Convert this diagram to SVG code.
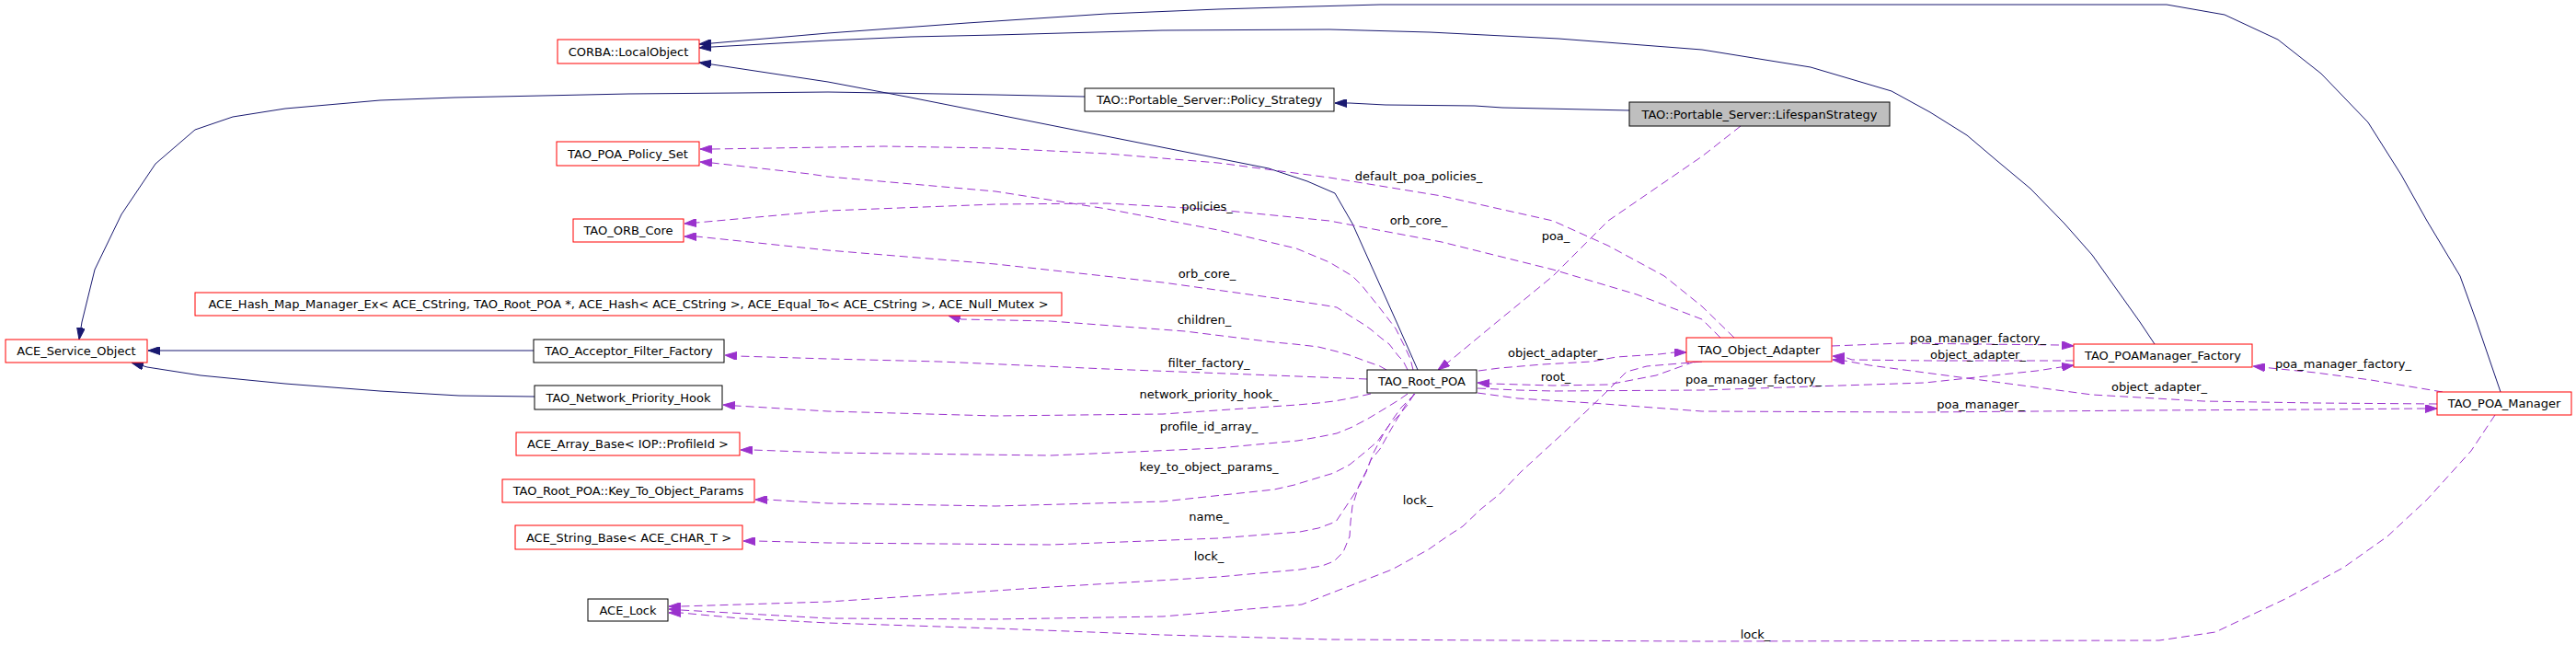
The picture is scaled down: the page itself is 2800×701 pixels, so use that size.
<svg xmlns="http://www.w3.org/2000/svg" width="2800" height="701" viewBox="0 0 2800 701">
<style>
text{font-family:"DejaVu Sans","Liberation Sans",sans-serif;font-size:13px;text-anchor:middle;fill:#000}
.node rect{fill:#fff;stroke:#ff0000;stroke-width:1}
.node.k rect{stroke:#000}
.node.g rect{fill:#bfbfbf;stroke:#000}
.inh{fill:none;stroke:#191970;stroke-width:1;marker-end:url(#ah)}
.use{fill:none;stroke:#9a32cd;stroke-width:1;stroke-dasharray:9,5;marker-end:url(#ap)}
</style>
<defs>
<marker id="ah" viewBox="0 0 13 9" refX="13" refY="4.5" markerWidth="13" markerHeight="9" markerUnits="userSpaceOnUse" orient="auto"><path d="M0,0L13,4.5L0,9z" fill="#191970" stroke="#191970"/></marker>
<marker id="ap" viewBox="0 0 13 9" refX="13" refY="4.5" markerWidth="13" markerHeight="9" markerUnits="userSpaceOnUse" orient="auto"><path d="M0,0L13,4.5L0,9z" fill="#9a32cd" stroke="#9a32cd"/></marker>
</defs>
<rect width="2800" height="701" fill="#fff"/>
<g id="connectors">
<path class="inh" d="M2718,426 L2692,350 L2674,300 L2638,240 L2610,190 L2574,133 L2523,80 L2476,43 L2418,16 L2355,5 L1500,5 L1427,7 L1324,10 L1203,15 L1051,25 L900,36 L774,47 L760,48"/>
<path class="inh" d="M2342,374 L2326,350 L2274,277 L2244,243 L2207,205 L2171,175 L2138,147 L2098,122 L2056,99 L1968,73 L1850,54 L1694,42 L1554,35 L1445,32 L1263,33 L1082,38 L990,40 L900,44 L774,51 L760,52"/>
<path class="inh" d="M1541,402 L1518,350 L1470,243 L1451,210 L1421,197 L1379,183 L990,106 L900,89 L774,70 L760,68"/>
<path class="inh" d="M1179,105 L1082,103 L900,100 L803,101 L683,102 L494,106 L413,109 L310,118 L253,127 L212,141 L169,178 L132,233 L103,293 L89,350 L86,369"/>
<path class="inh" d="M1771,120 L1633,117 L1603,115 L1506,114 L1467,112 L1451,112"/>
<path class="inh" d="M580,381 L161,381"/>
<path class="inh" d="M581,431 L499,430 L413,425 L310,417 L218,408 L160,399 L143,394"/>
<path class="use" d="M1885,367 L1850,333 L1809,300 L1748,267 L1688,240 L1567,213 L1506,203 L1445,193 L1324,177 L1203,167 L1082,161 L961,159 L900,160 L774,162 L761,162"/>
<path class="use" d="M1536,402 L1533,390 L1527,377 L1517,357 L1500,335 L1480,310 L1470,300 L1445,285 L1409,270 L1324,250 L1203,227 L1082,208 L900,192 L880,189 L774,177 L761,176"/>
<path class="use" d="M1870,367 L1850,347 L1779,320 L1688,293 L1567,263 L1445,240 L1324,228 L1203,221 L1082,222 L900,229 L757,242 L744,243"/>
<path class="use" d="M1530,402 L1525,392 L1520,387 L1510,374 L1502,368 L1490,358 L1483,353 L1467,343 L1453,334 L1435,331 L1408,327 L1264,307 L1082,287 L900,272 L757,257 L744,257"/>
<path class="use" d="M1507,402 L1500,398 L1483,392 L1467,386 L1453,382 L1433,377 L1407,374 L1385,372 L1288,360 L1142,349 L1045,347 L1031,343"/>
<path class="use" d="M1486,412 L1385,408 L1203,401 L1021,393 L900,390 L801,387 L788,386"/>
<path class="use" d="M1490,428 L1467,433 L1450,436 L1433,438 L1410,440 L1264,450 L1082,452 L900,447 L800,441 L786,440"/>
<path class="use" d="M1530,428 L1520,435 L1507,443 L1487,455 L1470,464 L1453,471 L1433,475 L1410,479 L1324,487 L1142,495 L900,492 L818,489 L805,489"/>
<path class="use" d="M1537,428 L1530,440 L1520,452 L1510,462 L1497,480 L1483,492 L1467,505 L1450,514 L1430,520 L1407,527 L1385,532 L1264,545 L1082,550 L900,547 L834,543 L821,543"/>
<path class="use" d="M1538,428 L1528,440 L1520,453 L1510,470 L1500,488 L1490,500 L1485,513 L1478,527 L1472,537 L1462,552 L1452,567 L1433,574 L1413,578 L1324,585 L1142,592 L900,590 L822,588 L808,588"/>
<path class="use" d="M1538,428 L1523,443 L1513,457 L1503,473 L1493,492 L1485,512 L1477,528 L1470,550 L1468,567 L1467,583 L1460,600 L1450,610 L1437,615 L1413,619 L1324,627 L1142,638 L900,654 L740,659 L727,659"/>
<path class="use" d="M1850,393 L1790,398 L1768,404 L1742,430 L1700,470 L1653,513 L1630,537 L1610,553 L1590,572 L1573,583 L1553,597 L1533,608 L1513,619 L1415,657 L1264,670 L1082,673 L900,672 L740,663 L727,662"/>
<path class="use" d="M2712,451 L2686,490 L2638,543 L2595,583 L2547,617 L2486,650 L2408,687 L2347,696 L1850,697 L1445,695 L1264,690 L1082,683 L900,677 L804,672 L740,666 L727,666"/>
<path class="use" d="M1892,137 L1850,170 L1748,240 L1688,300 L1660,323 L1627,350 L1575,393 L1563,402"/>
<path class="use" d="M1607,403 L1630,400 L1677,396 L1730,393 L1757,388 L1803,385 L1820,383 L1833,383"/>
<path class="use" d="M1842,393 L1800,408 L1748,418 L1688,419 L1620,417 L1606,416"/>
<path class="use" d="M1606,422 L1650,424 L1688,425 L1850,424 L1971,420 L2092,416 L2214,403 L2240,399 L2254,397"/>
<path class="use" d="M1991,376 L2068,373 L2238,375 L2254,376"/>
<path class="use" d="M2254,392 L2100,392 L2013,391 L2005,388 L1992,387"/>
<path class="use" d="M2649,439 L2517,438 L2395,436 L2274,429 L2153,413 L2032,397 L2005,392 L1992,391"/>
<path class="use" d="M2655,426 L2577,413 L2517,405 L2468,400 L2449,398"/>
<path class="use" d="M1606,427 L1650,433 L1730,438 L1850,447 L2092,448 L2334,446 L2517,445 L2635,444 L2649,444"/>
<text x="1542" y="195.5">default_poa_policies_</text>
<text x="1312" y="228.5">policies_</text>
<text x="1542" y="243.5">orb_core_</text>
<text x="1691" y="260.5">poa_</text>
<text x="1312" y="301.5">orb_core_</text>
<text x="1309" y="351.5">children_</text>
<text x="1691" y="387.5">object_adapter_</text>
<text x="1314" y="398.5">filter_factory_</text>
<text x="1691" y="413.5">root_</text>
<text x="1906" y="416.5">poa_manager_factory_</text>
<text x="1314" y="432.5">network_priority_hook_</text>
<text x="2150" y="371.5">poa_manager_factory_</text>
<text x="2150" y="389.5">object_adapter_</text>
<text x="2347" y="424.5">object_adapter_</text>
<text x="2547" y="399.5">poa_manager_factory_</text>
<text x="2153" y="443.5">poa_manager_</text>
<text x="1314" y="467.5">profile_id_array_</text>
<text x="1314" y="511.5">key_to_object_params_</text>
<text x="1541" y="547.5">lock_</text>
<text x="1314" y="565.5">name_</text>
<text x="1314" y="608.5">lock_</text>
<text x="1908" y="693.5">lock_</text>
</g>
<g id="n_corba" class="node"><rect x="606" y="43" width="154" height="26"/><text x="683" y="60.5">CORBA::LocalObject</text></g>
<g id="n_policyset" class="node"><rect x="605" y="154" width="155" height="26"/><text x="682.5" y="171.5">TAO_POA_Policy_Set</text></g>
<g id="n_orbcore" class="node"><rect x="623" y="238" width="120" height="25"/><text x="683" y="255">TAO_ORB_Core</text></g>
<g id="n_hashmap" class="node"><rect x="212" y="318" width="942" height="25"/><text x="683" y="335">ACE_Hash_Map_Manager_Ex&lt; ACE_CString, TAO_Root_POA *, ACE_Hash&lt; ACE_CString &gt;, ACE_Equal_To&lt; ACE_CString &gt;, ACE_Null_Mutex &gt;</text></g>
<g id="n_service" class="node"><rect x="6" y="369" width="154" height="25"/><text x="83" y="386">ACE_Service_Object</text></g>
<g id="n_acceptor" class="node k"><rect x="580" y="369" width="207" height="25"/><text x="683.5" y="386">TAO_Acceptor_Filter_Factory</text></g>
<g id="n_nph" class="node k"><rect x="581" y="419" width="204" height="26"/><text x="683" y="436.5">TAO_Network_Priority_Hook</text></g>
<g id="n_array" class="node"><rect x="561" y="470" width="243" height="25"/><text x="682.5" y="487">ACE_Array_Base&lt; IOP::ProfileId &gt;</text></g>
<g id="n_key" class="node"><rect x="546" y="521" width="274" height="25"/><text x="683" y="538">TAO_Root_POA::Key_To_Object_Params</text></g>
<g id="n_string" class="node"><rect x="560" y="571" width="247" height="26"/><text x="683.5" y="588.5">ACE_String_Base&lt; ACE_CHAR_T &gt;</text></g>
<g id="n_lock" class="node k"><rect x="639" y="651" width="87" height="24"/><text x="682.5" y="667.5">ACE_Lock</text></g>
<g id="n_policystrategy" class="node k"><rect x="1179" y="96" width="271" height="25"/><text x="1314.5" y="113">TAO::Portable_Server::Policy_Strategy</text></g>
<g id="n_lifespan" class="node g"><rect x="1771" y="111" width="283" height="26"/><text x="1912.5" y="128.5">TAO::Portable_Server::LifespanStrategy</text></g>
<g id="n_rootpoa" class="node k"><rect x="1486" y="402" width="119" height="25"/><text x="1545.5" y="419">TAO_Root_POA</text></g>
<g id="n_objadapter" class="node"><rect x="1833" y="367" width="158" height="26"/><text x="1912" y="384.5">TAO_Object_Adapter</text></g>
<g id="n_pmfactory" class="node"><rect x="2254" y="374" width="194" height="25"/><text x="2351" y="391">TAO_POAManager_Factory</text></g>
<g id="n_poamanager" class="node"><rect x="2649" y="426" width="146" height="25"/><text x="2722" y="443">TAO_POA_Manager</text></g>
</svg>
